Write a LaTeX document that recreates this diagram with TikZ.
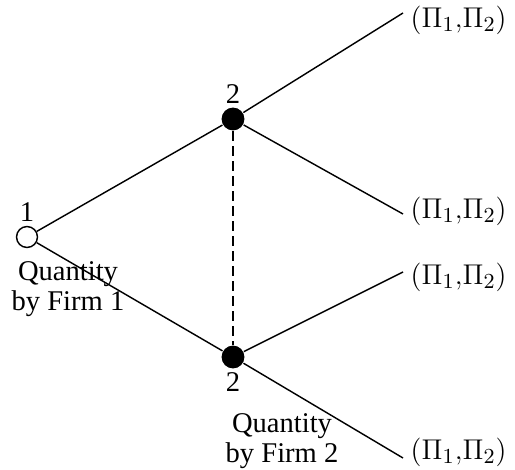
\documentclass[tikz,border=0pt]{standalone}
\usepackage{fontspec}
\setmainfont{Liberation Serif}
\usetikzlibrary{positioning}
\tikzset{
    decision/.style={
           circle,
           draw=black, line width=0.6pt,
           fill=white,
           minimum size=8.8pt,
           inner sep=0pt,
           },
    decision2/.style={
           circle,
           fill=black,
           minimum size=9.6pt,
           inner sep=0pt,
           },
    frameless/.style={
           inner sep=1pt,
           align=center,
           font=\fontsize{12}{12.5}\selectfont,
           },
    payoff/.style={
           inner sep=0pt,
           anchor=west,
           font=\fontsize{13}{14}\selectfont,
           },
}

\begin{document}
\begin{tikzpicture}[x=0.42pt, y=-0.42pt, line width=0.6pt]
	\useasboundingbox (0,0) rectangle (515,470);

	\node[decision] (root) at (27,237) {};
	\node[decision2] (up) at (233,119) {};
	\node[decision2] (low) at (233,357) {};

	\node[frameless, above=0.5pt of root] (p1) {1};
	\node[frameless, above=0pt of up] (p2a) {2};
	\node[frameless, below=0pt of low] (p2b) {2};

	\node[frameless] (q1) at (68,289) {Quantity\\by Firm 1};
	\node[frameless] (q2) at (282,441) {Quantity\\by Firm 2};

	\coordinate (e1) at (403,13);
	\coordinate (e2) at (403,214);
	\coordinate (e3) at (403,272);
	\coordinate (e4) at (403,458);

	\node[payoff] (pay1) at (410,20) {$(\Pi_1{,}\Pi_2)$};
	\node[payoff] (pay2) at (410,211) {$(\Pi_1{,}\Pi_2)$};
	\node[payoff] (pay3) at (410,277) {$(\Pi_1{,}\Pi_2)$};
	\node[payoff] (pay4) at (410,452) {$(\Pi_1{,}\Pi_2)$};

	\draw (root) -- (up);
	\draw (root) -- (low);
	\draw (up) -- (e1);
	\draw (up) -- (e2);
	\draw (low) -- (e3);
	\draw (low) -- (e4);
	\draw[dash pattern=on 4pt off 2.3pt] (up) -- (low);

\end{tikzpicture}
\end{document}
